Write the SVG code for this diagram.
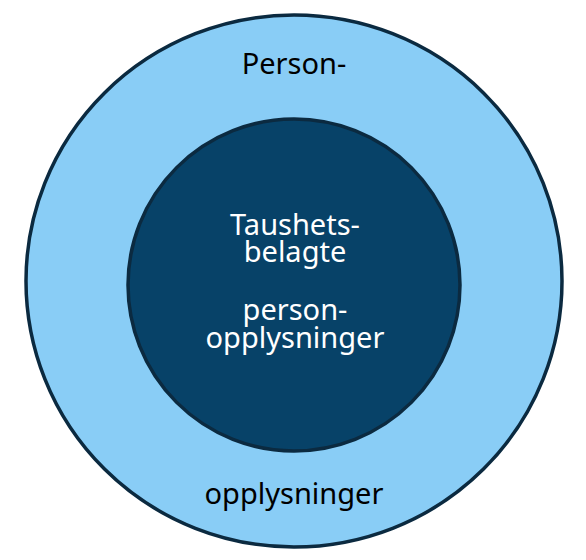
<svg xmlns="http://www.w3.org/2000/svg" width="586" height="560" viewBox="0 0 586 560">
<style>
.ring{stroke:#0B2A40;stroke-width:3.5}
.t{font-family:"Noto Sans","Liberation Sans",sans-serif;font-size:29px;text-anchor:middle}
.dark{fill:#000}
.light{fill:#fff}
</style>
<rect width="586" height="560" fill="#fff"/>
<g id="outer">
<ellipse class="ring" cx="294" cy="281" rx="268" ry="266" fill="#89CDF6"/>
<text class="t dark" x="294" y="74">Person-</text>
<text class="t dark" x="294" y="504">opplysninger</text>
</g>
<g id="inner">
<circle class="ring" cx="294" cy="285" r="166" fill="#074268"/>
<text class="t light" x="295" y="235">Taushets-</text>
<text class="t light" x="295" y="262">belagte</text>
<text class="t light" x="295" y="320">person-</text>
<text class="t light" x="295" y="348">opplysninger</text>
</g>
<g id="connectors"/>
</svg>
